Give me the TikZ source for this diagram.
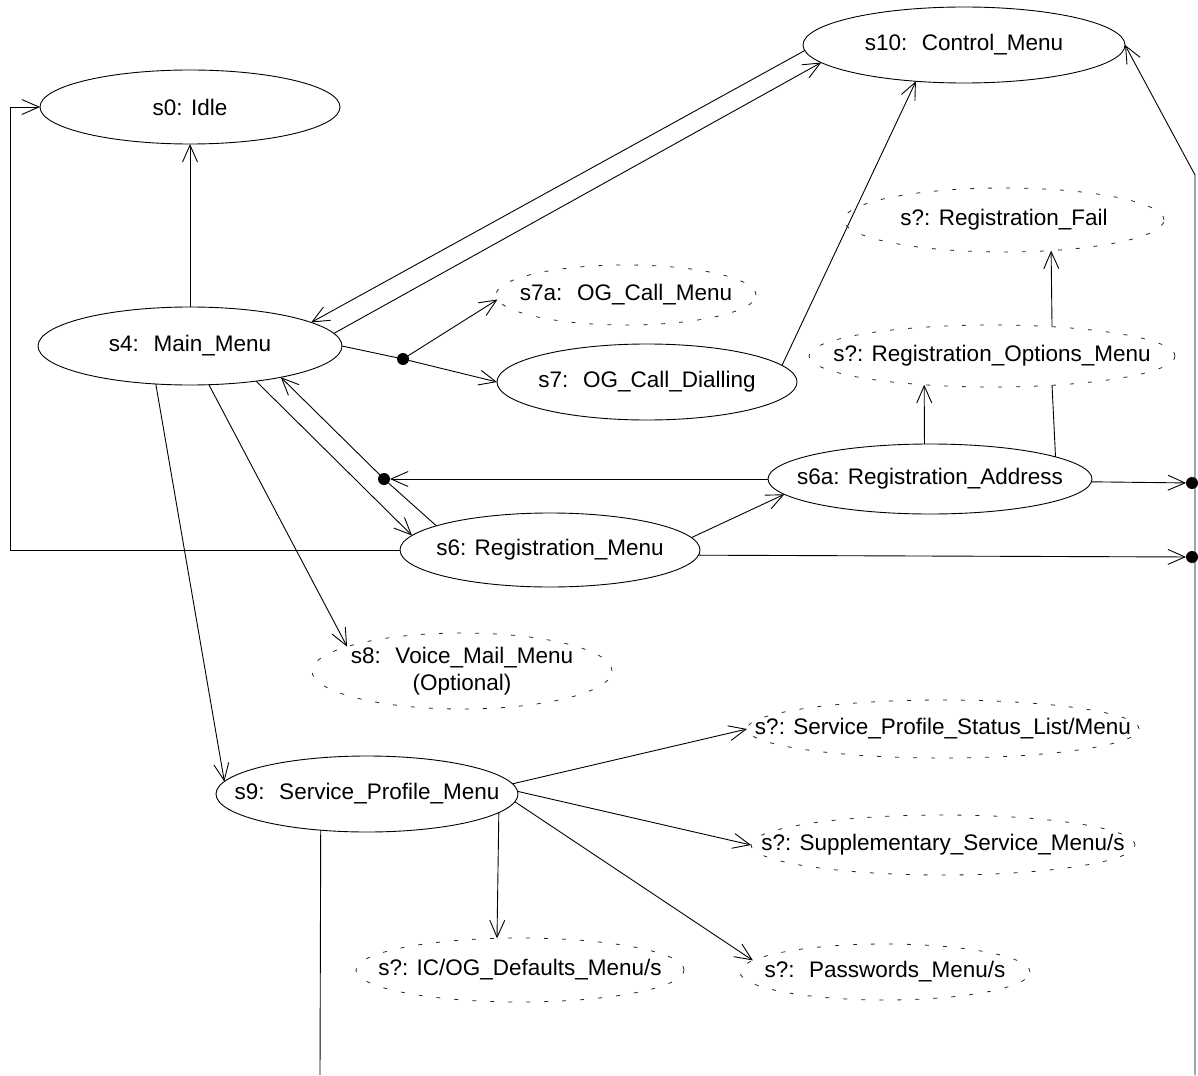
\documentclass[tikz,border=0pt]{standalone}
\usepackage{fontspec}
\setmainfont{Liberation Sans}
\usetikzlibrary{arrows.meta,shapes.geometric}
\begin{document}
\begin{tikzpicture}[x=1pt,y=-1pt,
  font=\fontsize{22.5}{27}\selectfont,
  state/.style={draw, ellipse, inner sep=0pt, outer sep=0pt, line width=0.9pt},
  opt/.style={state, draw=black!85, dash pattern=on 4pt off 14pt, line width=0.8pt},
  ln/.style={line width=0.9pt},
  arr/.style={ln, -{Straight Barb[length=17pt,width=15pt]}},
  dot/.style={circle, fill, inner sep=0pt, outer sep=0pt, minimum size=12pt},
  sz/.style 2 args={minimum width=#1, minimum height=#2},
]
\useasboundingbox (0,0) rectangle (1198,1075);

% states
\node[state, sz={300pt}{74pt}, label=center:{s0: Idle}] (s0) at (190,107) {};
\node[state, sz={322pt}{76pt}, label=center:{s10: ~Control\_Menu}] (s10) at (964,45) {};
\node[opt, sz={320pt}{64pt}, label=center:{s?: Registration\_Fail}] (regfail) at (1004,220) {};
\node[state, sz={304pt}{78pt}, label=center:{s4: ~Main\_Menu}] (s4) at (190,346) {};
\node[opt, sz={260pt}{60pt}, label=center:{s7a: ~OG\_Call\_Menu}] (s7a) at (626,295) {};
\node[state, sz={300pt}{76pt}, label=center:{s7: ~OG\_Call\_Dialling}] (s7) at (647,382) {};
\node[opt, sz={366pt}{62pt}, label=center:{s?: Registration\_Options\_Menu}] (regopt) at (992,356) {};
\node[state, sz={324pt}{70pt}, label=center:{s6a: Registration\_Address}] (s6a) at (930,479) {};
\node[state, sz={300pt}{74pt}, label=center:{s6: Registration\_Menu}] (s6) at (550,550) {};
\node[opt, sz={300pt}{76pt}, label={[align=center]center:{s8: ~Voice\_Mail\_Menu\\(Optional)}}] (s8) at (462,671) {};
\node[state, sz={302pt}{76pt}, label=center:{s9: ~Service\_Profile\_Menu}] (s9) at (367,794) {};
\node[opt, sz={392pt}{58pt}, label=center:{s?: Service\_Profile\_Status\_List/Menu}] (sps) at (943,729) {};
\node[opt, sz={384pt}{60pt}, label=center:{s?: Supplementary\_Service\_Menu/s}] (ssm) at (943,845) {};
\node[opt, sz={328pt}{64pt}, label=center:{s?: IC/OG\_Defaults\_Menu/s}] (icog) at (520,970) {};
\node[opt, sz={290pt}{56pt}, label=center:{s?: ~Passwords\_Menu/s}] (pw) at (885,972) {};

% junctions and free ends
\node[dot] (j1) at (403,359) {};
\node[dot] (j2) at (384,479) {};
\node[dot] (jA) at (1192,483) {};
\node[dot] (jB) at (1192,557) {};
\coordinate (railTop) at (1195,175);
\coordinate (railBot) at (1195,1075);
\coordinate (loopL) at (10,550);
\coordinate (s9end) at (320,1075);

% transitions
\draw[arr] (s4.north) -- (s0.south);
\draw[arr] (s6.west) -- (loopL) |- (s0.west);
\draw[arr] (s10.182) -- (s4.11.8);
\draw[arr] (s4.5.1) -- (s10.187.9);
\draw[ln] (s4.east) -- (j1);
\draw[arr] (j1) -- (s7a.182.8);
\draw[arr] (j1) -- (s7.west);
\draw[arr] (s7.7) -- (s10.217);
\draw[arr] (railBot) -- (railTop) -- (s10.east);
\draw[arr] (s4.-28) -- (s6.174);
\draw[ln] (s6.168) -- (j2);
\draw[arr] (j2) -- (s4.-19);
\draw[arr] (s6a.west) -- (j2);
\draw[arr] (s6.5.6) -- (s6a.186.4);
\draw[arr] (s6a.99.73) -- (regopt.-157.06);
\draw[ln] (regopt.-26.02) -- (s6a.10.69);
\draw[arr] (regopt.26.45) -- (regfail.-33.06);
\draw[arr] (s6a.-1.5) -- (jA);
\draw[arr] (s6.-2.7) -- (jB);
\draw[arr] (s4.-64.6) -- (s8.168.6);
\draw[arr] (s4.-132.6) -- (s9.175);
\draw[arr] (s9.4.73) -- (sps.west);
\draw[arr] (s9.1.1) -- (ssm.west);
\draw[arr] (s9.-8.46) -- (icog.126);
\draw[arr] (s9.-3.4) -- (pw.175.2);
\draw[ln] (s9.-142.47) -- (s9end);
\end{tikzpicture}
\end{document}
